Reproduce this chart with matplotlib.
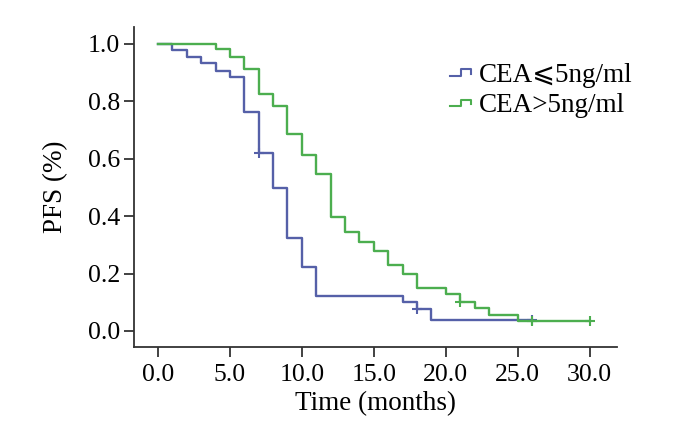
import numpy as np
import matplotlib
matplotlib.use("Agg")
import matplotlib.pyplot as plt
from matplotlib.lines import Line2D
from matplotlib.legend_handler import HandlerBase

plt.rcParams["font.family"] = ["Liberation Serif", "DejaVu Sans"]

# Kaplan-Meier step data
low_times = [0, 1, 2, 3, 4, 5, 6, 7, 8, 9, 10, 11, 17, 18, 19, 26]
low_surv = [1.0, 0.979, 0.956, 0.933, 0.907, 0.884, 0.764, 0.619, 0.497,
            0.323, 0.224, 0.123, 0.100, 0.076, 0.038, 0.038]
low_cens_t = [7, 18, 26]
low_cens_s = [0.619, 0.076, 0.038]

high_times = [0, 4, 5, 6, 7, 8, 9, 10, 11, 12, 13, 14, 15, 16, 17, 18,
              20, 21, 22, 23, 25, 30]
high_surv = [1.0, 0.981, 0.953, 0.912, 0.826, 0.782, 0.685, 0.614, 0.546,
             0.398, 0.346, 0.309, 0.279, 0.228, 0.198, 0.149, 0.128, 0.100,
             0.079, 0.056, 0.036, 0.036]
high_cens_t = [21, 26, 30]
high_cens_s = [0.100, 0.036, 0.036]

labels = ["CEA\u2a7d5ng/ml", "CEA>5ng/ml"]
colors = ["#5560a8", "#4cae4f"]
xticks = [0, 5, 10, 15, 20, 25, 30]
yticks = [0.0, 0.2, 0.4, 0.6, 0.8, 1.0]


class StepHandler(HandlerBase):
    # little step-shaped legend key like the original
    def create_artists(self, legend, orig_handle, xdescent, ydescent,
                       width, height, fontsize, trans):
        xs = np.array([0, 0.5, 0.5, 0.95, 0.95]) * width - xdescent
        ys = np.array([0.3, 0.3, 0.65, 0.65, 0.4]) * height - ydescent
        ln = Line2D(xs, ys, color=orig_handle.get_color(), lw=1.5)
        ln.set_transform(trans)
        return [ln]


fig = plt.figure(figsize=(7, 4.23), dpi=100)
ax = fig.add_axes([0.1914, 0.1797, 0.69, 0.7565])

series = [(low_times, low_surv, low_cens_t, low_cens_s),
          (high_times, high_surv, high_cens_t, high_cens_s)]
handles = []
for (t, s, ct, cs), c, lab in zip(series, colors, labels):
    ax.step(t, s, where="post", color=c, lw=1.7)
    ax.plot(ct, cs, ls="none", marker="+", ms=7, mew=1.5, color=c)
    handles.append(Line2D([], [], color=c, label=lab))

ax.set_xlim(-1.67, 31.9)
ax.set_ylim(-0.056, 1.059)
ax.set_xticks(xticks)
ax.set_xticklabels([f"{v:.1f}" for v in xticks])
ax.set_yticks(yticks)
ax.set_yticklabels([f"{v:.1f}" for v in yticks])

for side in ["top", "right"]:
    ax.spines[side].set_visible(False)
for side in ["left", "bottom"]:
    ax.spines[side].set_color("#333333")
    ax.spines[side].set_linewidth(1.3)
ax.tick_params(direction="out", length=7, width=1.3, color="#333333",
               labelsize=18.5, pad=3)
ax.tick_params(axis="x", pad=5)

ax.set_xlabel("Time (months)", fontsize=19.5, labelpad=4)
ax.set_ylabel("PFS (%)", fontsize=19.5, labelpad=14)

fig.legend(handles=handles, labels=labels, handler_map={Line2D: StepHandler()},
           loc="upper left", bbox_to_anchor=(0.624, 0.884), frameon=False,
           fontsize=19.5, handlelength=0.8, handletextpad=0.25,
           labelspacing=0.2, borderpad=0)

fig.savefig("out.png", dpi=100)
